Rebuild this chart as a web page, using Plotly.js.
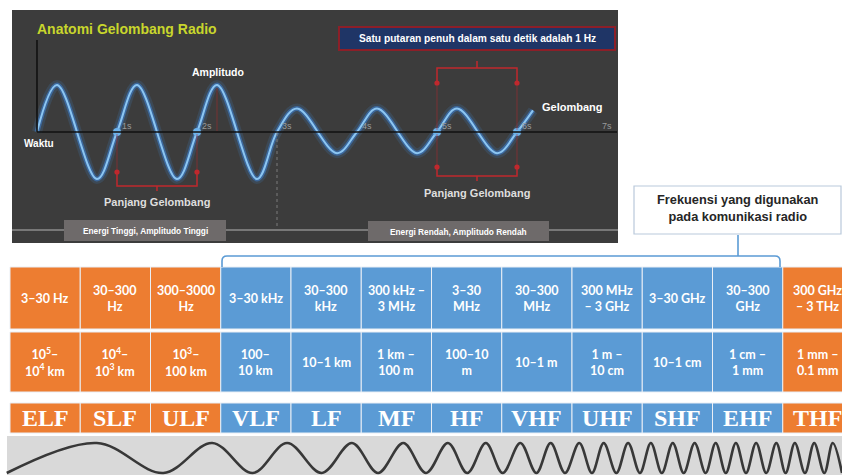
<!DOCTYPE html>
<html>
<head>
<meta charset="utf-8">
<script src="https://cdn.plot.ly/plotly-3.0.1.min.js"></script>
<style>html,body{margin:0;padding:0;background:#fff;}#chart{width:842px;height:475px;}</style>
</head>
<body>
<div id="chart"></div>
<script>
// ---------- DATA ----------
// Top panel: radio wave (time in seconds, relative amplitude)
const waveT   = [0, 0.25, 0.75, 1, 1.25, 1.75, 2, 2.25, 2.75, 3, 3.25, 3.75, 4, 4.25, 4.75, 5, 5.25, 5.75, 6, 6.2];
const waveAmp = [0, 1, -1, 0, 1, -1, 0, 1, -1, 0, 0.5, -0.45, 0, 0.5, -0.45, 0, 0.5, -0.45, 0, 0.46];
const markT   = [1, 2, 5, 6];
const timeTicks  = [1, 2, 3, 4, 5, 6, 7];
const timeLabels = ['1s', '2s', '3s', '4s', '5s', '6s', '7s'];

// Spectrum table
const freqLabels = ['3–30 Hz', '30–300<br>Hz', '300–3000<br>Hz', '3–30 kHz', '30–300<br>kHz', '300 kHz –<br>3 MHz',
                    '3–30<br>MHz', '30–300<br>MHz', '300 MHz<br>– 3 GHz', '3–30 GHz', '30–300<br>GHz', '300 GHz<br>– 3 THz'];
const waveLenLabels = ['10<sup>5</sup>–<br>10<sup>4</sup> km', '10<sup>4</sup>–<br>10<sup>3</sup> km', '10<sup>3</sup>–<br>100 km',
                    '100–<br>10 km', '10–1 km', '1 km –<br>100 m', '100–10<br>m', '10–1 m', '1 m –<br>10 cm', '10–1 cm',
                    '1 cm –<br>1 mm', '1 mm –<br>0.1 mm'];
const bandNames  = ['ELF', 'SLF', 'ULF', 'VLF', 'LF', 'MF', 'HF', 'VHF', 'UHF', 'SHF', 'EHF', 'THF'];
const radioUse   = [0, 0, 0, 1, 1, 1, 1, 1, 1, 1, 1, 0];

// Bottom chirp wave: extrema position along the spectrum (0-100) and level
const chirpPos = [0.8, 11.5, 19.4, 25.2, 30.0, 34.1, 38.2, 41.8, 44.9, 47.9, 50.6, 53.2, 55.5, 57.7, 59.7, 61.8,
                  63.7, 65.4, 67.1, 68.8, 70.3, 71.7, 73.2, 74.6, 76.0, 77.3, 78.6, 79.9, 81.2, 82.5, 83.8, 85.0,
                  86.2, 87.4, 88.6, 89.8, 91.0, 92.2, 93.3, 94.4, 95.6, 96.7, 97.9, 98.9, 100];
const chirpLvl = chirpPos.map((_, i) => (i % 2 === 0 ? -1 : 1));

// ---------- LAYOUT HELPERS ----------
const W = 842, H = 475;
const PX = x => x / W;
const PY = y => 1 - y / H;
const ORANGE = '#ed7d31', BLUE = '#5b9bd5', RED = '#c0282d';

const shapes = [];
const ann = [];

function rectP(x0, y0, x1, y1, fill, line, lw, layer) {
  shapes.push({type: 'rect', xref: 'paper', yref: 'paper', x0: PX(x0), x1: PX(x1), y0: PY(y1), y1: PY(y0),
               fillcolor: fill, line: {color: line || 'rgba(0,0,0,0)', width: lw || 0}, layer: layer || 'below'});
}
function pathP(pts, color, width, dash) {
  const d = pts.map((p, i) => (i ? 'L' : 'M') + PX(p[0]).toFixed(5) + ',' + PY(p[1]).toFixed(5)).join(' ');
  shapes.push({type: 'path', xref: 'paper', yref: 'paper', path: d, line: {color: color, width: width, dash: dash || 'solid'}});
}
function textP(x, y, text, size, color, opts) {
  ann.push(Object.assign({xref: 'paper', yref: 'paper', x: PX(x), y: PY(y), text: text, showarrow: false,
    font: {family: 'Liberation Sans, Arial, sans-serif', size: size, color: color, weight: 700},
    xanchor: 'center', yanchor: 'middle'}, opts || {}));
}
// pixel x of a time value in the top panel (t=0 at 37px, 80px per second)
const tx = t => 37 + 80 * t;
function dot(t, y) {
  shapes.push({type: 'circle', xref: 'x', yref: 'paper', xsizemode: 'pixel', ysizemode: 'pixel',
               xanchor: t, yanchor: PY(y), x0: -2.6, x1: 2.6, y0: -2.6, y1: 2.6,
               fillcolor: RED, line: {width: 0}});
}

// ---------- TOP PANEL ----------
rectP(12, 10, 618, 243, '#3c3c3c');
rectP(12, 229.3, 618, 230.7, '#8c8c8c');
rectP(64, 220, 226, 241, '#6e6a6a');
rectP(368, 221, 549, 241, '#6e6a6a');
textP(145, 231, 'Energi Tinggi, Amplitudo Tinggi', 8.3, '#ffffff');
textP(458.5, 231.5, 'Energi Rendah, Amplitudo Rendah', 8.3, '#ffffff');

textP(35, 29, 'Anatomi Gelombang Radio', 14, '#c8d62c', {xanchor: 'left'});
// axes of the wave
pathP([[37, 40], [37, 132]], '#111', 1.6);
pathP([[37, 132], [617, 132]], '#111', 1.6);
// dotted separator at 3 s
shapes.push({type: 'line', xref: 'x', yref: 'paper', x0: 3, x1: 3, y0: PY(133), y1: PY(229),
             line: {color: '#7a7a7a', width: 1, dash: 'dot'}});
// amplitude indicator
shapes.push({type: 'line', xref: 'x', yref: 'paper', x0: 2.25, x1: 2.25, y0: PY(88), y1: PY(131),
             line: {color: 'rgba(150,45,45,0.55)', width: 1.2}});
textP(218, 72, 'Amplitudo', 10.5, '#ffffff');
textP(22, 143, 'Waktu', 10, '#ffffff', {xanchor: 'left'});
textP(540, 107, 'Gelombang', 11, '#ffffff', {xanchor: 'left'});

// info box
rectP(339, 27, 615, 50, '#1f3566', '#8c1f28', 2, 'above');
textP(477, 38.5, 'Satu putaran penuh dalam satu detik adalah 1 Hz', 10.2, '#ffffff');

// red brackets
const faint = 'rgba(175,40,45,0.55)';
[1, 2].forEach(t => { pathP([[tx(t), 134], [tx(t), 172]], faint, 1); dot(t, 172); });
pathP([[tx(1), 172], [tx(1), 186], [tx(2), 186], [tx(2), 172]], RED, 1.5);
pathP([[tx(1.5), 186], [tx(1.5), 191]], RED, 1.5);
textP(tx(1.5), 202, 'Panjang Gelombang', 11, '#dedede');

[5, 6].forEach(t => { pathP([[tx(t), 83], [tx(t), 130]], faint, 1); pathP([[tx(t), 134], [tx(t), 167]], faint, 1);
                      dot(t, 83); dot(t, 167); });
pathP([[tx(5), 83], [tx(5), 68], [tx(6), 68], [tx(6), 83]], RED, 1.5);
pathP([[tx(5.5), 68], [tx(5.5), 61]], RED, 1.5);
pathP([[tx(5), 167], [tx(5), 176], [tx(6), 176], [tx(6), 167]], RED, 1.5);
pathP([[tx(5.5), 176], [tx(5.5), 181]], RED, 1.5);
textP(tx(5.5), 193, 'Panjang Gelombang', 11, '#dedede');

// time labels
timeTicks.forEach((t, i) => ann.push({xref: 'x', yref: 'paper', x: t, y: PY(132), text: timeLabels[i],
  showarrow: false, xanchor: 'left', yanchor: 'bottom', xshift: 3, yshift: -1,
  font: {family: 'Liberation Sans, Arial, sans-serif', size: 9, color: '#9a9a9a'}}));

// ---------- RADIO FREQUENCY CALLOUT ----------
rectP(634, 186, 841, 234, '#ffffff', '#b9c9db', 1.2, 'above');
textP(738, 208, 'Frekuensi yang digunakan<br>pada komunikasi radio', 12.8, '#262626');
(function () {
  const p = (x, y) => PX(x).toFixed(5) + ',' + PY(y).toFixed(5);
  shapes.push({type: 'path', xref: 'paper', yref: 'paper',
    path: 'M' + p(222, 267) + ' L' + p(222, 261) + ' Q' + p(222, 256) + ' ' + p(227, 256) +
          ' L' + p(775, 256) + ' Q' + p(780, 256) + ' ' + p(780, 261) + ' L' + p(780, 267),
    line: {color: BLUE, width: 1.6}});
  shapes.push({type: 'line', xref: 'paper', yref: 'paper', x0: PX(738), x1: PX(738), y0: PY(235), y1: PY(256),
    line: {color: BLUE, width: 1.6}});
})();

// ---------- TABLE ----------
const rows = [
  {y0: 267, y1: 329, labels: freqLabels,   font: {family: 'Lato, Open Sans, sans-serif', size: 12.5, color: '#ffffff', weight: 700}},
  {y0: 332, y1: 392, labels: waveLenLabels, font: {family: 'Lato, Open Sans, sans-serif', size: 12.5, color: '#ffffff', weight: 700}},
  {y0: 403, y1: 433, labels: bandNames,    font: {family: 'Liberation Serif, Times New Roman, serif', size: 24, color: '#ffffff', weight: 700}}
];
rows.forEach(r => {
  bandNames.forEach((_, c) => {
    shapes.push({type: 'rect', xref: 'x3', yref: 'paper', x0: c, x1: c + 1, y0: PY(r.y1), y1: PY(r.y0),
      fillcolor: radioUse[c] ? BLUE : ORANGE, line: {color: '#e9eef5', width: 1}, layer: 'below'});
    ann.push({xref: 'x3', yref: 'paper', x: c + 0.5, y: PY((r.y0 + r.y1) / 2), text: r.labels[c], showarrow: false,
      xanchor: 'center', yanchor: 'middle', align: 'center', font: r.font});
  });
});

// bottom grey band
rectP(7, 436, 842, 475, '#d9d9d9');

// ---------- TRACES ----------
const traces = [
  {x: waveT, y: waveAmp, xaxis: 'x', yaxis: 'y', mode: 'lines', line: {shape: 'spline', width: 10, color: 'rgba(70,140,220,0.16)'}},
  {x: waveT, y: waveAmp, xaxis: 'x', yaxis: 'y', mode: 'lines', line: {shape: 'spline', width: 5, color: 'rgba(60,130,215,0.55)'}},
  {x: waveT, y: waveAmp, xaxis: 'x', yaxis: 'y', mode: 'lines', line: {shape: 'spline', width: 2, color: '#8cc6f2'}},
  {x: markT, y: markT.map(() => 0), xaxis: 'x', yaxis: 'y', mode: 'markers', marker: {size: 8, color: '#6db3ec'}},
  {x: chirpPos, y: chirpLvl, xaxis: 'x2', yaxis: 'y2', mode: 'lines', line: {shape: 'spline', width: 2.6, color: '#383838'}},
  {x: [0.5], y: [0.5], xaxis: 'x3', yaxis: 'y3', mode: 'markers', marker: {size: 1, color: 'rgba(0,0,0,0)'}}
];

const hidden = {visible: false, fixedrange: true, showgrid: false, zeroline: false, domain: [0, 1]};
const layout = {
  width: W, height: H, margin: {l: 0, r: 0, t: 0, b: 0, pad: 0},
  paper_bgcolor: '#ffffff', plot_bgcolor: 'rgba(0,0,0,0)', showlegend: false, hovermode: false,
  xaxis:  Object.assign({}, hidden, {range: [-37 / 80, (W - 37) / 80], anchor: 'y'}),
  yaxis:  Object.assign({}, hidden, {range: [(132 - H) / 47, 132 / 47], anchor: 'x'}),
  xaxis2: Object.assign({}, hidden, {range: [0, 100], anchor: 'y2'}),
  yaxis2: Object.assign({}, hidden, {range: [(458 - H) / 15, 458 / 15], anchor: 'x2'}),
  xaxis3: Object.assign({}, hidden, {range: [-10 / 70.25, (W - 10) / 70.25], anchor: 'y3'}),
  yaxis3: Object.assign({}, hidden, {range: [0, 1], anchor: 'x3'}),
  shapes: shapes, annotations: ann
};
Plotly.newPlot('chart', traces, layout, {staticPlot: true, displayModeBar: false});
</script>
</body>
</html>
